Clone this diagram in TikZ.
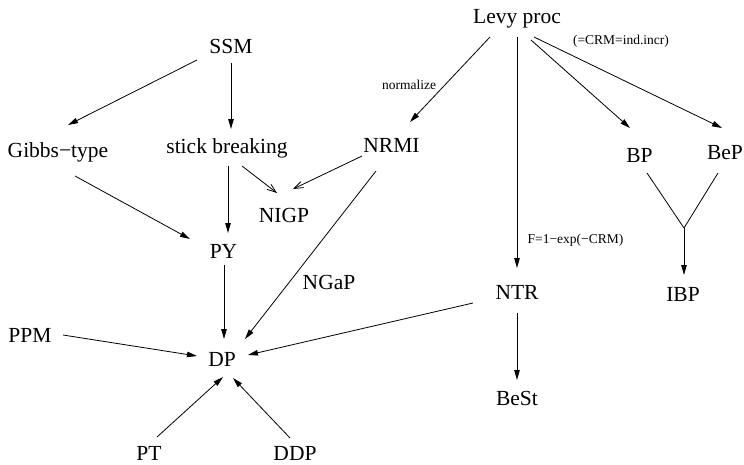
\documentclass[tikz,border=0pt]{standalone}
\usepackage{fontspec}
\setmainfont{Liberation Serif}
\usetikzlibrary{arrows.meta}
\begin{document}
\begin{tikzpicture}[x=1pt,y=-1pt,
  lbl/.style={anchor=base,inner sep=0pt,font=\fontsize{21.5}{24}\selectfont},
  small/.style={anchor=base,inner sep=0pt,font=\fontsize{13.5}{15}\selectfont},
  arr/.style={line width=0.8pt,-{Triangle[length=10pt,width=5.5pt]}},
  oarr/.style={line width=0.8pt,-{Straight Barb[length=9pt,width=6.5pt]}},
  ln/.style={line width=0.8pt}]
\useasboundingbox (0,0) rectangle (744,464);
% nodes
\node[lbl] (Levy)  at (517,23)  {Levy proc};
\node[lbl] (SSM)   at (231,53)  {SSM};
\node[lbl] (Gibbs) at (58,157)  {Gibbs−type};
\node[lbl] (stick) at (227,153) {stick breaking};
\node[lbl] (NRMI)  at (391.5,152) {NRMI};
\node[lbl] (NIGP)  at (284,222) {NIGP};
\node[lbl] (BP)    at (639.5,162) {BP};
\node[lbl] (BeP)   at (725,159) {BeP};
\node[lbl] (PY)    at (223.5,258) {PY};
\node[lbl] (NGaP)  at (329,289) {NGaP};
\node[lbl] (NTR)   at (517,299) {NTR};
\node[lbl] (IBP)   at (683,301) {IBP};
\node[lbl] (PPM)   at (30,342)  {PPM};
\node[lbl] (DP)    at (222,366) {DP};
\node[lbl] (BeSt)  at (517,405) {BeSt};
\node[lbl] (PT)    at (149,460) {PT};
\node[lbl] (DDP)   at (295,460) {DDP};
% small labels
\node[small] (norm) at (409,89)  {normalize};
\node[small] (crm)  at (621,44)  {(=CRM=ind.incr)};
\node[small] (Flab) at (575.5,243) {F=1−exp(−CRM)};
\coordinate (J) at (684,228);
% connectors
\draw[arr] ([shift={(-34,7)}]SSM.base) -- ([shift={(10,-32)}]Gibbs.base);
\draw[arr] ([shift={(0,10)}]SSM.base) -- ([shift={(0,-24)}]SSM.base |- stick.base);
\draw[arr] ([shift={(17,19)}]Gibbs.base) -- ([shift={(-33.5,-19)}]PY.base);
\draw[arr] ([shift={(1,13)}]stick.base) -- ([shift={(4.5,-25)}]PY.base);
\draw[oarr] ([shift={(15,13)}]stick.base) -- ([shift={(-7,-29)}]NIGP.base);
\draw[oarr] ([shift={(-29.5,4)}]NRMI.base) -- ([shift={(9,-33)}]NIGP.base);
\draw[arr] ([shift={(-15.5,19)}]NRMI.base) -- ([shift={(23,-27)}]DP.base);
\draw[arr] ([shift={(0.5,7)}]PY.base) -- ([shift={(2,-27)}]DP.base);
\draw[arr] ([shift={(-44,4)}]NTR.base) -- ([shift={(26,-11)}]DP.base);
\draw[arr] ([shift={(33,-7)}]PPM.base) -- ([shift={(-25,-10)}]DP.base);
\draw[arr] ([shift={(8,-23)}]PT.base) -- ([shift={(1,11)}]DP.base);
\draw[arr] ([shift={(-5,-22)}]DDP.base) -- ([shift={(11,12)}]DP.base);
\draw[arr] ([shift={(-27,14)}]Levy.base) -- ([shift={(18.5,-30)}]NRMI.base);
\draw[arr] ([shift={(0,14)}]Levy.base) -- ([shift={(0,-31)}]NTR.base);
\draw[arr] ([shift={(14,17)}]Levy.base) -- ([shift={(-9.5,-34)}]BP.base);
\draw[arr] ([shift={(17,14)}]Levy.base) -- ([shift={(-3,-31)}]BeP.base);
\draw[ln] ([shift={(7.5,11)}]BP.base) -- (J);
\draw[ln] ([shift={(-7,14)}]BeP.base) -- (J);
\draw[arr] (J) -- ([shift={(1,-26)}]IBP.base);
\draw[arr] ([shift={(0,14)}]NTR.base) -- ([shift={(0,-25)}]BeSt.base);
\end{tikzpicture}
\end{document}
